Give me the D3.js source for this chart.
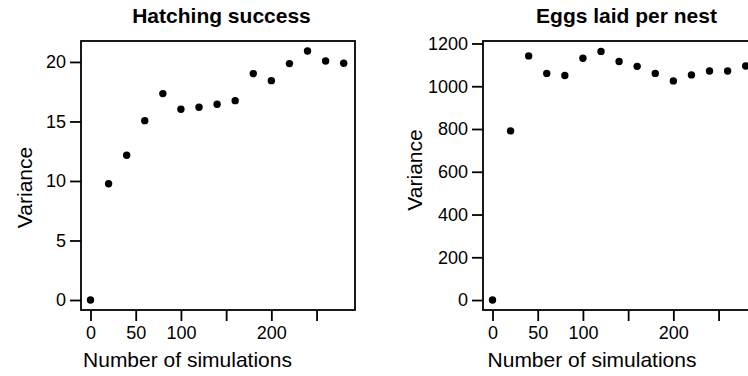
<!DOCTYPE html>
<html>
<head>
<meta charset="utf-8">
<script src="https://cdn.jsdelivr.net/npm/d3@7"></script>
<style>
  body { margin: 0; background: #fff; }
  svg { display: block; font-family: "Liberation Sans", Arial, Helvetica, sans-serif; }
  .axis path { display: none; }
  .axis line { stroke: #000; stroke-width: 1.8; }
  .axis text { font-size: 18px; fill: #000; }
</style>
</head>
<body>
<svg id="chart"></svg>
<script>
// Number of simulations (x) shared by both panels
const simulations = [0, 20, 40, 60, 80, 100, 120, 140, 160, 180, 200, 220, 240, 260, 280];

// Variance of hatching success
const hatchingVariance = [0, 9.77, 12.16, 15.07, 17.34, 16.02, 16.19, 16.44, 16.75, 19.02, 18.43, 19.86, 20.92, 20.08, 19.89];

// Variance of eggs laid per nest
const eggsVariance = [0, 791, 1142, 1060, 1050, 1131, 1163, 1116, 1093, 1060, 1025, 1053, 1071, 1071, 1095];

const xTicks = [0, 50, 100, 150, 200, 250];
const xTickLabels = ['0', '50', '100', '', '200', ''];
const hatchingTicks = [0, 5, 10, 15, 20];
const eggsTicks = [0, 200, 400, 600, 800, 1000, 1200];

const width = 748, height = 376;

const svg = d3.select('#chart')
    .attr('width', width)
    .attr('height', height);

// draw one panel
function drawPanel(cfg) {
    const top = 41, bottom = 310;
    const x = d3.scaleLinear()
        .domain([-10.5, 292.5])
        .range([cfg.left, cfg.left + 274]);
    const y = d3.scaleLinear()
        .domain(cfg.yDomain)
        .range([bottom, top]);

    const g = svg.append('g');

    // plot box
    g.append('rect')
        .attr('x', cfg.left)
        .attr('y', top)
        .attr('width', 274)
        .attr('height', bottom - top)
        .attr('fill', 'none')
        .attr('stroke', '#000')
        .attr('stroke-width', 1.8);

    const xAxis = d3.axisBottom(x)
        .tickValues(xTicks)
        .tickFormat((d, i) => xTickLabels[i])
        .tickSize(11)
        .tickPadding(5);
    g.append('g')
        .attr('class', 'axis x-axis')
        .attr('transform', `translate(0,${bottom})`)
        .call(xAxis);

    const yAxis = d3.axisLeft(y)
        .tickValues(cfg.yTicks)
        .tickFormat(d3.format('d'))
        .tickSize(11)
        .tickPadding(4);
    g.append('g')
        .attr('class', 'axis y-axis')
        .attr('transform', `translate(${cfg.left},0)`)
        .call(yAxis);

    // points
    g.selectAll('circle')
        .data(simulations.map((s, i) => ({s: s, v: cfg.values[i]})))
        .join('circle')
        .attr('cx', d => x(d.s))
        .attr('cy', d => y(d.v))
        .attr('r', 3.7)
        .attr('fill', '#000');

    // title
    g.append('text')
        .attr('x', cfg.titleX)
        .attr('y', 22.5)
        .attr('text-anchor', 'middle')
        .attr('font-size', 21)
        .attr('font-weight', 'bold')
        .text(cfg.title);

    // x label
    g.append('text')
        .attr('x', cfg.xLabelX)
        .attr('y', 367)
        .attr('text-anchor', 'middle')
        .attr('font-size', 21)
        .text('Number of simulations');

    // y label
    g.append('text')
        .attr('transform', `translate(${cfg.yLabelX},${cfg.yLabelY}) rotate(-90)`)
        .attr('text-anchor', 'middle')
        .attr('font-size', 21)
        .text('Variance');
}

drawPanel({
    left: 81,
    yDomain: [-0.84, 21.76],
    yTicks: hatchingTicks,
    values: hatchingVariance,
    title: 'Hatching success',
    titleX: 221.5,
    xLabelX: 187.5,
    yLabelX: 32,
    yLabelY: 187.5
});

drawPanel({
    left: 483,
    yDomain: [-46.6, 1211.6],
    yTicks: eggsTicks,
    values: eggsVariance,
    title: 'Eggs laid per nest',
    titleX: 626.5,
    xLabelX: 592,
    yLabelX: 422,
    yLabelY: 170
});
</script>
</body>
</html>
